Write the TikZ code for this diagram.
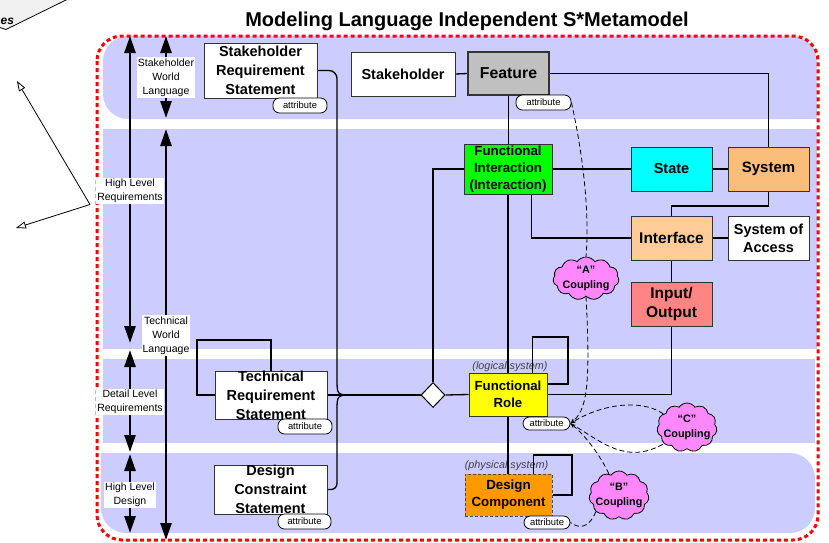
\documentclass[tikz,border=0pt]{standalone}
\usepackage{fontspec}
\setmainfont{Liberation Sans}
\usetikzlibrary{arrows.meta,shapes.geometric,shapes.symbols,calc}
\definecolor{bandc}{HTML}{CCCCFF}
\definecolor{sysc}{HTML}{FBBD7A}
\definecolor{intfc}{HTML}{FFCC99}
\definecolor{ioc}{HTML}{FF8585}
\definecolor{cloudc}{HTML}{FF88FF}
\definecolor{featc}{HTML}{C0C0C0}
\definecolor{dcc}{HTML}{FF9900}
\definecolor{esc}{HTML}{F0F0F0}
\definecolor{cyanc}{HTML}{00FFFF}
\definecolor{greenc}{HTML}{00FF00}
\definecolor{yellowc}{HTML}{FFFF00}
\pgfdeclarelayer{bg}
\pgfdeclarelayer{lines}
\pgfsetlayers{bg,lines,main}
\begin{document}
\begin{tikzpicture}[x=1pt,y=-1pt,
  box/.style={draw=black!80, line width=1pt, inner sep=0pt, align=center, font=\fontsize{14.5}{18.7}\selectfont\bfseries},
  boxtext/.style={inner sep=0pt, align=center, font=\fontsize{14.5}{18.7}\selectfont\bfseries},
  attr/.style={draw, fill=white, rounded corners=6.5pt, inner sep=0pt, line width=0.8pt, font=\fontsize{9.4}{11}\selectfont},
  sidelbl/.style={fill=white, inner xsep=1pt, inner ysep=1.5pt, align=center, font=\fontsize{10.5}{14}\selectfont},
  bigarrow/.style={line width=2.6pt, {Triangle[length=17pt,width=11pt]}-{Triangle[length=17pt,width=11pt]}},
  conn/.style={line width=1.3pt},
  dsh/.style={dash pattern=on 5pt off 3pt, line width=0.8pt},
  dtip/.style={-{Stealth[length=5pt,width=4pt]}},
  cloudn/.style={cloud, cloud puffs=11, cloud puff arc=110, draw, fill=cloudc, line width=0.8pt, inner sep=0pt},
  cloudtext/.style={inner sep=0pt, align=center, font=\fontsize{10.8}{15}\selectfont\bfseries},
  tlabel/.style={inner sep=0pt, font=\fontsize{10.8}{12}\selectfont\itshape, text=black!75},
  thinarrow/.style={line width=0.8pt, -{Triangle[open,length=10pt,width=7pt]}}
]
\useasboundingbox (0,0) rectangle (829,542);

% ---------- background bands and frame ----------
\begin{pgfonlayer}{bg}
\fill[bandc, rounded corners=25pt] (103,36) rectangle (817,119);
\fill[bandc] (700,80) rectangle (817,119);
\fill[bandc] (103,129) rectangle (817,349);
\fill[bandc] (103,359) rectangle (815,443);
\fill[bandc, rounded corners=25pt] (101,453) rectangle (815,533);
\fill[bandc] (101,453) rectangle (200,490);
\draw[red, line width=3pt, dash pattern=on 4pt off 3pt, rounded corners=25pt] (97,36) rectangle (818,540);
% top-left fragment
\fill[esc] (0,-2) -- (68,-2) -- (5,30) -- (0,28) -- cycle;
\draw[line width=0.8pt] (68,-1) -- (6,29.5) -- (0,27.5);
% big vertical arrows
\coordinate (a1t) at (130,36);  \coordinate (a1b) at (130,343);
\coordinate (b1t) at (166,36);  \coordinate (b1b) at (166,118);
\coordinate (b2t) at (166,129); \coordinate (b2b) at (166,540);
\coordinate (c1t) at (130,350); \coordinate (c1b) at (130,452);
\coordinate (d1t) at (130,454); \coordinate (d1b) at (130,533);
\draw[bigarrow] (a1t) -- (a1b);
\draw[bigarrow] (b1t) -- (b1b);
\draw[bigarrow] (b2t) -- (b2b);
\draw[bigarrow] (c1t) -- (c1b);
\draw[bigarrow] (d1t) -- (d1b);
% italic labels
\node[tlabel] (lsys) at (510,367) {(logical system)};
\node[tlabel] (psys) at (506.5,466) {(physical system)};
\end{pgfonlayer}

\node[font=\fontsize{12}{12}\selectfont\bfseries\itshape, anchor=base west, inner sep=0pt] (es) at (0.5,24) {es};
\node[font=\fontsize{20}{22}\selectfont\bfseries, anchor=base, inner sep=0pt] (title) at (467,26) {Modeling Language Independent S*Metamodel};

% side labels
\node[sidelbl] (swl) at (166,77.5) {Stakeholder\\World\\Language};
\node[sidelbl] (hlr) at (130,191) {High Level\\Requirements};
\node[sidelbl] (twl) at (166,335.5) {Technical\\World\\Language};
\node[sidelbl] (dlr) at (130,402) {Detail Level\\Requirements};
\node[sidelbl] (hld) at (130,495) {High Level\\Design};

% left thin arrows
\coordinate (ls) at (90,204.5);
\coordinate (le1) at (17,81);
\coordinate (le2) at (16,228);
\draw[thinarrow] (ls) -- (le1);
\draw[thinarrow] (ls) -- (le2);

% ---------- boxes ----------
\node[box, fill=white, minimum width=113pt, minimum height=55pt] (srs) at (260.5,70.5) {Stakeholder\\Requirement\\Statement};
\node[box, fill=white, minimum width=104pt, minimum height=44pt] (stk) at (403,74) {Stakeholder};
\node[box, fill=featc, line width=1.6pt, minimum width=81pt, minimum height=43pt, font=\fontsize{15.8}{18}\selectfont\bfseries] (feat) at (508.5,73.5) {Feature};
\node[box, fill=greenc, minimum width=88pt, minimum height=50pt, font=\fontsize{13.3}{16.7}\selectfont\bfseries] (fi) at (508,169) {Functional\\Interaction\\(Interaction)};
\node[box, fill=cyanc, minimum width=81pt, minimum height=44pt] (state) at (671.5,169) {State};
\node[box, fill=sysc, minimum width=81pt, minimum height=44pt, font=\fontsize{15}{18}\selectfont\bfseries] (sys) at (768.5,169) {System};
\node[box, fill=intfc, minimum width=81pt, minimum height=44pt, font=\fontsize{15.5}{18}\selectfont\bfseries] (intf) at (671.5,238) {Interface};
\node[box, fill=white, minimum width=81pt, minimum height=44pt, font=\fontsize{14.5}{18}\selectfont\bfseries] (soa) at (768.5,238) {System of\\Access};
\node[box, fill=ioc, minimum width=81pt, minimum height=44pt, font=\fontsize{15.5}{19}\selectfont\bfseries] (io) at (671.5,304) {Input/\\Output};
\node[box, fill=yellowc, minimum width=78pt, minimum height=43pt, font=\fontsize{13.2}{17.3}\selectfont\bfseries] (fr) at (508,394.5) {Functional\\Role};
\node[box, fill=dcc, draw=black!70, dash pattern=on 3pt off 2pt, minimum width=87pt, minimum height=42pt, font=\fontsize{13.3}{17}\selectfont\bfseries] (dc) at (508.5,495) {Design\\Component};
\node[box, fill=white, minimum width=112pt, minimum height=48pt] (trs) at (271,395) {};
\node[boxtext] (trst) at (271,395.5) {Technical\\Requirement\\Statement};
\node[box, fill=white, minimum width=113pt, minimum height=49pt] (dcs) at (270.5,489.5) {};
\node[boxtext] (dcst) at (270.5,489.5) {Design\\Constraint\\Statement};
\node[diamond, draw, fill=white, line width=1pt, inner sep=0pt, minimum width=24pt, minimum height=25pt] (dia) at (433,395) {};

% attribute pills
\node[attr, minimum width=54pt, minimum height=15pt] (srsattr) at (300,105.5) {attribute};
\node[attr, minimum width=55pt, minimum height=15pt] (fattr) at (543.5,102.5) {attribute};
\node[attr, minimum width=47pt, minimum height=13pt] (frattr) at (546.5,423.5) {attribute};
\node[attr, minimum width=46pt, minimum height=13pt] (dcattr) at (547,522.5) {attribute};
\node[attr, minimum width=54pt, minimum height=15pt] (trsattr) at (305,426.5) {attribute};
\node[attr, minimum width=53pt, minimum height=15pt] (dcsattr) at (304.5,521.5) {attribute};

% coupling clouds
\node[cloudn, minimum width=66pt, minimum height=43pt] (acl) at (586,278.5) {};
\node[cloudtext] (aclt) at (586,278.5) {“A”\\Coupling};
\node[cloudn, minimum width=60pt, minimum height=49pt] (ccl) at (687,427.5) {};
\node[cloudtext] (cclt) at (687,427.5) {“C”\\Coupling};
\node[cloudn, minimum width=60pt, minimum height=49pt] (bcl) at (619,495.5) {};
\node[cloudtext] (bclt) at (619,495.5) {“B”\\Coupling};

% ---------- connectors ----------
\begin{pgfonlayer}{lines}
\coordinate (bj) at (353,395);
\coordinate (bu) at (337,379);
\coordinate (bd) at (337,411);
\draw[conn, rounded corners=8pt] (srs.east) -| (bu);
\draw[conn] (bu) .. controls (337,395) .. (bj);
\draw[conn, rounded corners=6pt] (dcs.east) -| (bd);
\draw[conn] (bd) .. controls (337,395) .. (bj);
\draw[conn] (trs.east) -- (dia.west);
\coordinate (tl1) at (197,340);
\draw[conn] (trs.north) |- (tl1) |- (trs.west);
\draw[conn] (dia.north) |- (fi.west);
\draw[conn] (dia.east) -- (fr.west);
\draw[conn] (stk.east) -- (feat.west);
\draw[conn] (feat.east) -| (sys.north);
\draw[conn] (feat.south) -- (feat.south |- fi.north);
\draw[conn] (fi.south) -- (fr.north);
\draw[conn] (fi.east) -- (state.west);
\draw[conn] (state.east) -- (sys.west);
\draw[conn] ([xshift=-21pt]fi.south east) |- (intf.west);
\coordinate (sj) at (671.5,206);
\draw[conn] (sys.south) |- (sj) -- (intf.north);
\draw[conn] (intf.east) -- (soa.west);
\draw[conn] (intf.south) -- (io.north);
\draw[conn] (io.south) |- (fr.east);
\coordinate (frl) at (568,337);
\draw[conn] ([xshift=-15pt]fr.north east) |- (frl) |- ([yshift=10.5pt]fr.east);
\draw[conn] (fr.south) -- (fr.south |- dc.north);
\coordinate (dcl) at (572,455);
\draw[conn] ([xshift=-19pt]dc.north east) |- (dcl) |- (dc.east);
% dashed couplings
\draw[dsh] (fattr.east) .. controls (582,150) and (590,210) .. (acl.north);
\draw[dsh, dtip] (acl.south) .. controls (591,390) and (586,410) .. (frattr.east);
\draw[dsh, dtip] (ccl.150) .. controls (640,398) and (600,405) .. (frattr.east);
\draw[dsh] (frattr.east) .. controls (600,440) and (625,466) .. (ccl.215);
\draw[dsh, dtip] (bcl.115) .. controls (600,455) and (585,435) .. (frattr.east);
\draw[dsh] (bcl.215) .. controls (588,530) and (578,528) .. (dcattr.east);
\end{pgfonlayer}
\end{tikzpicture}
\end{document}
